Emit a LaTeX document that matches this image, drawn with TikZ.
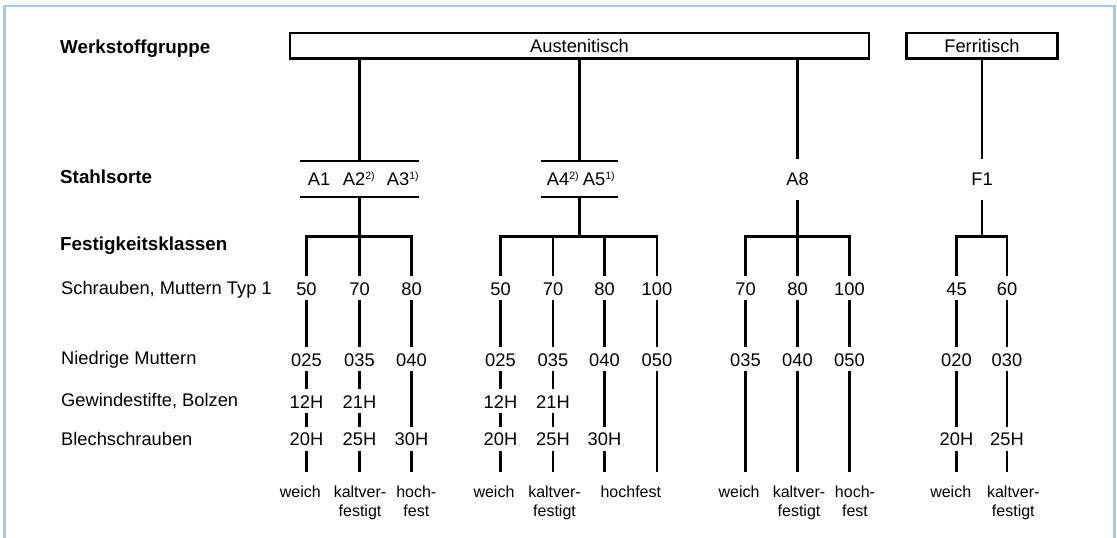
\documentclass[tikz,border=0pt]{standalone}
\usepackage{fontspec}
\setmainfont{Liberation Sans}
\definecolor{framecol}{RGB}{167,197,237}
% small raised footnote marks after the steel grades
\newcommand{\supnote}[1]{\raisebox{5.7pt}{\fontsize{10.6}{11}\selectfont #1}}
\begin{document}
\begin{tikzpicture}[x=1pt,y=-1pt,
  every node/.style={inner sep=0pt, font=\fontsize{18.3}{21}\selectfont},
  heading/.style={anchor=base west, font=\fontsize{18.8}{21}\selectfont\bfseries},
  rowlabel/.style={anchor=base west},
  groupbox/.style={draw, line width=2.5pt, minimum height=25.5pt},
  gradebar/.style={minimum height=35.7pt},
  grade/.style={anchor=base west},
  single/.style={anchor=base, text height=25.7pt, text depth=14.3pt},
  num/.style={anchor=base, text height=18.5pt, text depth=4.6pt},
  note/.style={anchor=base, align=center, font=\fontsize{16}{19}\selectfont},
  link/.style={line width=2.6pt, line join=miter},
  frame/.style={draw=framecol, line width=2.7pt}]
\useasboundingbox (0,0) rectangle (1117,538);

% outer frame, open at the bottom
\draw[frame] (4.7,538) -- (4.7,6) -- (1114.3,6) -- (1114.3,538);

% row headings
\node[heading] (hw) at (60,53) {Werkstoffgruppe};
\node[heading] (hs) at (60,183) {Stahlsorte};
\node[heading] (hf) at (60,250) {Festigkeitsklassen};
\node[rowlabel] (ls) at (61,294.7) {Schrauben, Muttern Typ 1};
\node[rowlabel] (lm) at (61,364) {Niedrige Muttern};
\node[rowlabel] (lg) at (61,406.5) {Gewindestifte, Bolzen};
\node[rowlabel] (lb) at (61,445) {Blechschrauben};

% material groups
\node[groupbox, minimum width=579pt] (aust) at (579.5,45.75) {Austenitisch};
\node[groupbox, minimum width=151pt] (ferr) at (982,45.75) {Ferritisch};

% steel grades
\node[gradebar, minimum width=119pt] (g1) at (359.5,178.85) {};
\node[gradebar, minimum width=76pt] (g2) at (579.5,178.85) {};
\node[grade] (a1) at (307.7,185) {A1};
\node[grade] (a2) at (342.7,185) {A2\supnote{2)}};
\node[grade] (a3) at (386.7,185) {A3\supnote{1)}};
\node[grade] (a4) at (546.7,185) {A4\supnote{2)}};
\node[grade] (a5) at (582.7,185) {A5\supnote{1)}};
\node[single] (a8) at (797.5,185) {A8};
\node[single] (f1) at (982,185) {F1};
\draw[link] (g1.north west) -- (g1.north east) (g1.south west) -- (g1.south east);
\draw[link] (g2.north west) -- (g2.north east) (g2.south west) -- (g2.south east);
\draw[link] (g1.north) -- (g1.north |- aust.south);
\draw[link] (g2.north) -- (g2.north |- aust.south);
\draw[link] (a8.north) -- (a8.north |- aust.south);
\draw[link] (ferr.south) -- (f1.north);

% strength classes
\foreach \c/\x/\v in {1a/306.5/50, 1b/359.5/70, 1c/411.5/80,
    2a/500.5/50, 2b/553/70, 2c/604.5/80, 2d/657/100,
    3a/745.5/70, 3b/797.5/80, 3c/849.5/100, 4a/956.5/45, 4b/1007/60}
  \node[num] (s\c) at (\x,295) {\v};
\foreach \c/\x/\v in {1a/306.5/025, 1b/359.5/035, 1c/411.5/040,
    2a/500.5/025, 2b/553/035, 2c/604.5/040, 2d/657/050,
    3a/745.5/035, 3b/797.5/040, 3c/849.5/050, 4a/956.5/020, 4b/1007/030}
  \node[num] (m\c) at (\x,366) {\v};
\foreach \c/\x/\v in {1a/306.5/12H, 1b/359.5/21H, 2a/500.5/12H, 2b/553/21H}
  \node[num] (g\c) at (\x,408) {\v};
\foreach \c/\x/\v in {1a/306.5/20H, 1b/359.5/25H, 1c/411.5/30H,
    2a/500.5/20H, 2b/553/25H, 2c/604.5/30H, 4a/956.5/20H, 4b/1007/25H}
  \node[num] (b\c) at (\x,445.7) {\v};
\foreach \c/\x in {1a/306.5, 1b/359.5, 1c/411.5, 2a/500.5, 2b/553, 2c/604.5,
    2d/657, 3a/745.5, 3b/797.5, 3c/849.5, 4a/956.5, 4b/1007}
  \coordinate (z\c) at (\x,471.7);

% branching brackets
\coordinate (j1) at (359.5,236.7);
\coordinate (j2) at (579.5,236.7);
\coordinate (j3) at (797.5,236.7);
\coordinate (j4) at (982,236.7);
\draw[link] (s1a.north) |- (j1) -| (s1c.north);
\draw[link] (g1.south) -- (j1) -- (s1b.north);
\draw[link] (s2a.north) |- (j2) -| (s2d.north);
\draw[link] (g2.south) -- (j2);
\draw[link] (s2b.north) -- (s2b.north |- j2);
\draw[link] (s2c.north) -- (s2c.north |- j2);
\draw[link] (s3a.north) |- (j3) -| (s3c.north);
\draw[link] (a8.south) -- (j3) -- (s3b.north);
\draw[link] (s4a.north) |- (j4) -| (s4b.north);
\draw[link] (f1.south) -- (j4);

% vertical runs through the product rows
\foreach \c in {1a,1b,2a,2b}
  \draw[link] (s\c.south) -- (m\c.north) (m\c.south) -- (g\c.north)
              (g\c.south) -- (b\c.north) (b\c.south) -- (z\c);
\foreach \c in {1c,2c,4a,4b}
  \draw[link] (s\c.south) -- (m\c.north) (m\c.south) -- (b\c.north)
              (b\c.south) -- (z\c);
\foreach \c in {2d,3a,3b,3c}
  \draw[link] (s\c.south) -- (m\c.north) (m\c.south) -- (z\c);

% condition notes (two-line notes sit on their last baseline)
\node[note] (w1) at (300.3,497) {weich};
\node[note] (k1) at (360,516) {kaltver-\\festigt};
\node[note] (h1) at (416.3,516) {hoch-\\fest};
\node[note] (w2) at (494,497) {weich};
\node[note] (k2) at (554.5,516) {kaltver-\\festigt};
\node[note] (h2) at (630.8,497) {hochfest};
\node[note] (w3) at (739,497) {weich};
\node[note] (k3) at (799,516) {kaltver-\\festigt};
\node[note] (h3) at (855,516) {hoch-\\fest};
\node[note] (w4) at (950.7,497) {weich};
\node[note] (k4) at (1013.3,516) {kaltver-\\festigt};
\end{tikzpicture}
\end{document}
